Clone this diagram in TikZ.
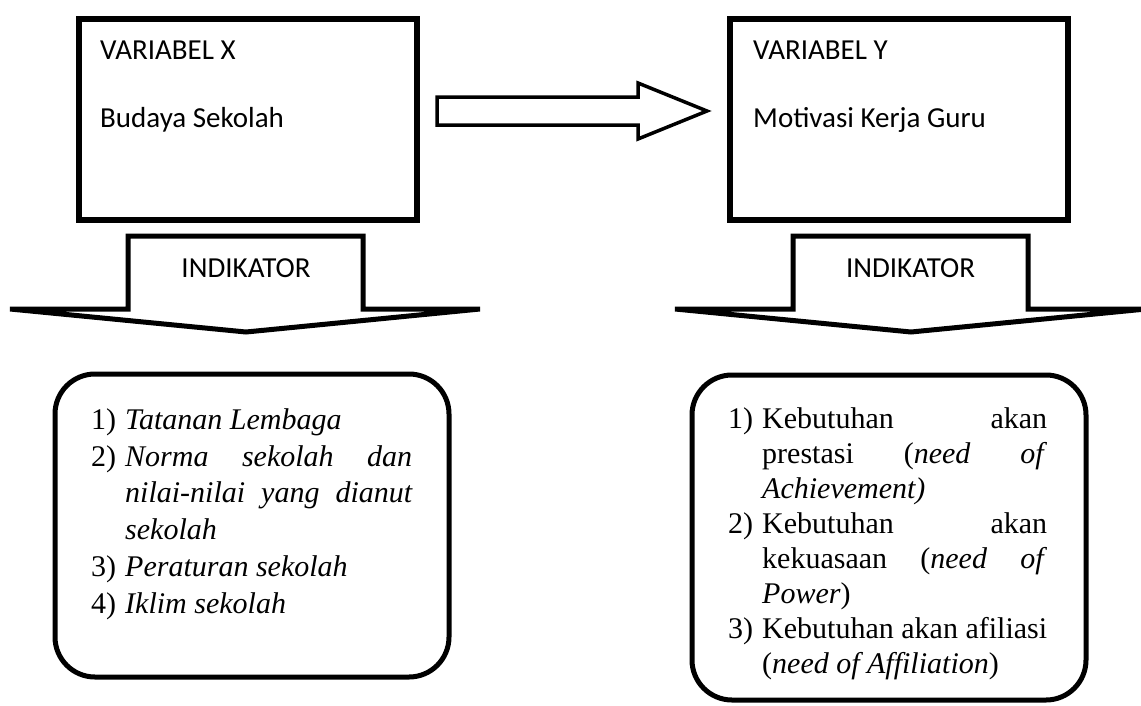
\documentclass[tikz,border=0pt]{standalone}
\usepackage{fontspec}
\setmainfont{Liberation Serif}
\newfontfamily\calfont{Carlito}
\begin{document}
\begin{tikzpicture}[x=1pt,y=-1pt,
  box/.style={draw, line width=5.5pt, inner sep=0pt},
  rbox/.style={draw, line width=5pt, inner sep=0pt, rounded corners=40pt},
  shp/.style={draw, line width=5pt, line join=miter, fill=white},
  blockarrow/.style={draw, line width=3.5pt, line join=miter},
  sanslbl/.style={font=\calfont\fontsize{29}{35}\selectfont, inner sep=0pt, anchor=base west},
  listtxt/.style={font=\fontsize{30}{36}\selectfont, inner sep=0pt, anchor=base west},
]
\useasboundingbox (0,0) rectangle (1141,705);

% top boxes
\node[box, minimum width=338pt, minimum height=201pt] (bx) at (248,119.5) {};
\node[box, minimum width=338pt, minimum height=201pt] (by) at (899,119.5) {};
\node[sanslbl] (vx) at (100,59) {VARIABEL X};
\node[sanslbl] (bs) at (100,127) {Budaya Sekolah};
\node[sanslbl] (vy) at (753,59) {VARIABEL Y};
\node[sanslbl] (mk) at (753,127) {Motivasi Kerja Guru};

% block arrow between boxes
\draw[blockarrow] (437,97) -- (638,97) -- (638,83) -- (707,111) -- (638,139) -- (638,125) -- (437,125) -- cycle;

% indicator callouts
\draw[shp] (128,309) -- (128,236) -- (363,236) -- (363,309) -- (480,309) -- (246,332) -- (10,309) -- cycle;
\draw[shp] (793,309) -- (793,236) -- (1028,236) -- (1028,309) -- (1146,309) -- (911,332) -- (675,309) -- cycle;
\node[sanslbl, anchor=base] (ix) at (246,277) {INDIKATOR};
\node[sanslbl, anchor=base] (iy) at (910.5,277) {INDIKATOR};

% rounded boxes
\node[rbox, minimum width=394pt, minimum height=303pt] (lx) at (252,525.5) {};
\node[rbox, minimum width=394pt, minimum height=325pt] (ly) at (889,537.5) {};

% left list
\node[listtxt] (l1n) at (91,429) {1)};
\node[listtxt] (l1)  at (125,429) {\textit{Tatanan Lembaga}};
\node[listtxt] (l2n) at (91,466) {2)};
\node[listtxt] (l2)  at (125,466) {\makebox[287pt][s]{\itshape Norma sekolah dan}};
\node[listtxt] (l2b) at (125,502) {\makebox[287pt][s]{\itshape nilai-nilai yang dianut}};
\node[listtxt] (l2c) at (125,539) {\textit{sekolah}};
\node[listtxt] (l3n) at (91,576) {3)};
\node[listtxt] (l3)  at (125,576) {\textit{Peraturan sekolah}};
\node[listtxt] (l4n) at (91,613) {4)};
\node[listtxt] (l4)  at (125,613) {\textit{Iklim sekolah}};

% right list
\node[listtxt] (r1n) at (728,428) {1)};
\node[listtxt] (r1)  at (762,428) {\makebox[285pt][s]{Kebutuhan akan}};
\node[listtxt] (r1b) at (762,463) {\makebox[285pt][s]{prestasi (\textit{need} \textit{of}}};
\node[listtxt] (r1c) at (762,498) {\textit{Achievement)}};
\node[listtxt] (r2n) at (728,533) {2)};
\node[listtxt] (r2)  at (762,533) {\makebox[285pt][s]{Kebutuhan akan}};
\node[listtxt] (r2b) at (762,568) {\makebox[285pt][s]{kekuasaan (\textit{need} \textit{of}}};
\node[listtxt] (r2c) at (762,603) {\textit{Power})};
\node[listtxt] (r3n) at (728,638) {3)};
\node[listtxt] (r3)  at (762,638) {\makebox[285pt][s]{Kebutuhan akan afiliasi}};
\node[listtxt] (r3b) at (762,673) {(\textit{need of Affiliation})};
\end{tikzpicture}
\end{document}
